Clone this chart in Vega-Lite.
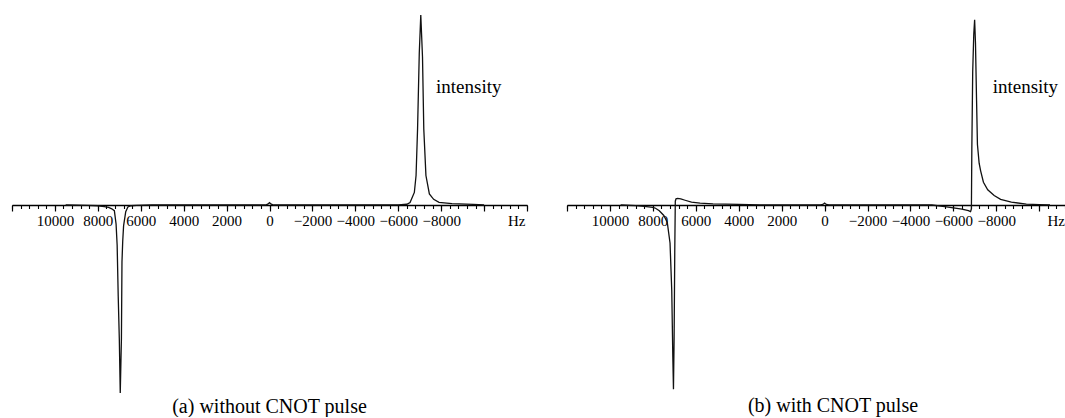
{
  "$schema": "https://vega.github.io/schema/vega-lite/v6.json",
  "padding": {"left": 11, "top": 12, "right": 0, "bottom": 0},
  "background": "white",
  "config": {
    "view": {"stroke": null},
    "font": "Liberation Serif",
    "axis": {"labelOverlap": false, "labelFlush": false, "grid": false, "title": null, "tickColor": "black", "domainColor": "black", "labelColor": "black", "labelFont": "Liberation Serif", "labelFontSize": 15}
  },
  "spacing": 40,
  "bounds": "flush",
  "datasets": {
    "a": [
      {"hz": 9500, "v": 0}, {"hz": 8500, "v": -0.002}, {"hz": 8000, "v": -0.004}, {"hz": 7700, "v": -0.008},
      {"hz": 7500, "v": -0.013}, {"hz": 7350, "v": -0.02}, {"hz": 7230, "v": -0.03}, {"hz": 7150, "v": -0.1},
      {"hz": 7100, "v": -0.21}, {"hz": 7050, "v": -0.48}, {"hz": 7000, "v": -0.7}, {"hz": 6955, "v": -0.99},
      {"hz": 6900, "v": -0.7}, {"hz": 6875, "v": -0.3}, {"hz": 6840, "v": -0.19}, {"hz": 6800, "v": -0.11},
      {"hz": 6700, "v": -0.035}, {"hz": 6600, "v": -0.01}, {"hz": 6450, "v": -0.004}, {"hz": 6200, "v": -0.002},
      {"hz": 5500, "v": 0}, {"hz": 200, "v": 0}, {"hz": 80, "v": 0.004}, {"hz": 0, "v": 0.012},
      {"hz": -80, "v": 0.004}, {"hz": -200, "v": 0}, {"hz": -6000, "v": 0.001}, {"hz": -6400, "v": 0.004},
      {"hz": -6550, "v": 0.013}, {"hz": -6750, "v": 0.066}, {"hz": -6830, "v": 0.155}, {"hz": -6900, "v": 0.4},
      {"hz": -6980, "v": 0.8}, {"hz": -7050, "v": 1.0}, {"hz": -7130, "v": 0.78}, {"hz": -7190, "v": 0.4},
      {"hz": -7290, "v": 0.155}, {"hz": -7450, "v": 0.058}, {"hz": -7650, "v": 0.03}, {"hz": -7900, "v": 0.014},
      {"hz": -8500, "v": 0.007}, {"hz": -9500, "v": 0.003}, {"hz": -10000, "v": 0}
    ],
    "b": [
      {"hz": 9500, "v": 0}, {"hz": 8800, "v": -0.003}, {"hz": 8400, "v": -0.007}, {"hz": 8000, "v": -0.013},
      {"hz": 7875, "v": -0.017}, {"hz": 7700, "v": -0.03}, {"hz": 7490, "v": -0.055}, {"hz": 7330, "v": -0.09},
      {"hz": 7200, "v": -0.2}, {"hz": 7120, "v": -0.45}, {"hz": 7070, "v": -0.8}, {"hz": 7040, "v": -0.97},
      {"hz": 7010, "v": -0.7}, {"hz": 6980, "v": -0.25}, {"hz": 6955, "v": 0.02}, {"hz": 6920, "v": 0.033},
      {"hz": 6850, "v": 0.035}, {"hz": 6700, "v": 0.032}, {"hz": 6500, "v": 0.025}, {"hz": 6200, "v": 0.015},
      {"hz": 5800, "v": 0.01}, {"hz": 5200, "v": 0.006}, {"hz": 4000, "v": 0.003}, {"hz": 3000, "v": 0.001},
      {"hz": 2000, "v": 0}, {"hz": 200, "v": 0}, {"hz": 80, "v": 0.003}, {"hz": 0, "v": 0.01},
      {"hz": -80, "v": 0.003}, {"hz": -200, "v": 0}, {"hz": -5000, "v": 0}, {"hz": -5600, "v": -0.008},
      {"hz": -6000, "v": -0.015}, {"hz": -6400, "v": -0.022}, {"hz": -6700, "v": -0.03}, {"hz": -6800, "v": -0.035},
      {"hz": -6840, "v": -0.02}, {"hz": -6860, "v": 0.3}, {"hz": -6900, "v": 0.7}, {"hz": -6950, "v": 0.9},
      {"hz": -6990, "v": 0.975}, {"hz": -7030, "v": 0.85}, {"hz": -7080, "v": 0.55}, {"hz": -7120, "v": 0.32},
      {"hz": -7200, "v": 0.22}, {"hz": -7270, "v": 0.18}, {"hz": -7400, "v": 0.12}, {"hz": -7600, "v": 0.08},
      {"hz": -7900, "v": 0.05}, {"hz": -8200, "v": 0.03}, {"hz": -8700, "v": 0.015}, {"hz": -9400, "v": 0.005},
      {"hz": -10000, "v": 0.002}, {"hz": -10500, "v": 0}
    ],
    "labA": [
      {"hz": -7760, "v": 0.587, "label": "intensity", "size": "big"},
      {"hz": -11114, "v": -0.113, "label": "Hz", "size": "small"}
    ],
    "labB": [
      {"hz": -7830, "v": 0.59, "label": "intensity", "size": "big"},
      {"hz": -10380, "v": -0.113, "label": "Hz", "size": "small"}
    ]
  },
  "hconcat": [
    {
      "width": 515,
      "height": 380,
      "title": {"text": "(a) without CNOT pulse", "orient": "bottom", "font": "Liberation Serif", "fontSize": 20, "fontWeight": "normal", "color": "black", "offset": 1, "anchor": "middle"},
      "resolve": {"axis": {"x": "independent"}},
      "layer": [
        {
          "data": {"name": "a"},
          "mark": {"type": "line", "color": "#111", "strokeWidth": 1.3},
          "encoding": {
            "x": {"field": "hz", "type": "quantitative", "scale": {"domain": [12000, -12000], "nice": false},
              "axis": {
                "orient": "bottom", "offset": -190, "format": "d",
                "values": [12000, 10000, 8000, 6000, 4000, 2000, 0, -2000, -4000, -6000, -8000, -10000, -12000],
                "labelExpr": "(datum.value <= 10000 && datum.value >= -8000) ? datum.label : ''",
                "tickSize": 6, "tickWidth": 1.2, "domainWidth": 1.5, "labelPadding": 2
              }
            },
            "y": {"field": "v", "type": "quantitative", "scale": {"domain": [-1, 1], "nice": false}, "axis": null}
          }
        },
        {
          "data": {"name": "labA"},
          "mark": {"type": "text", "align": "left", "baseline": "alphabetic", "font": "Liberation Serif", "color": "black", "clip": true},
          "encoding": {
            "x": {"field": "hz", "type": "quantitative",
              "axis": {
                "orient": "bottom", "offset": -190, "labels": false, "domain": false,
                "values": [12000, 11600, 11200, 10800, 10400, 10000, 9600, 9200, 8800, 8400, 8000, 7600, 7200, 6800, 6400, 6000, 5600, 5200, 4800, 4400, 4000, 3600, 3200, 2800, 2400, 2000, 1600, 1200, 800, 400, 0, -400, -800, -1200, -1600, -2000, -2400, -2800, -3200, -3600, -4000, -4400, -4800, -5200, -5600, -6000, -6400, -6800, -7200, -7600, -8000, -8400, -8800, -9200, -9600, -10000, -10400, -10800, -11200, -11600, -12000],
                "tickSize": 3.5, "tickWidth": 1.1
              }
            },
            "y": {"field": "v", "type": "quantitative"},
            "text": {"field": "label"},
            "size": {"field": "size", "type": "nominal", "scale": {"domain": ["big", "small"], "range": [19, 15]}, "legend": null}
          }
        }
      ]
    },
    {
      "width": 498,
      "height": 380,
      "title": {"text": "(b) with CNOT pulse", "orient": "bottom", "font": "Liberation Serif", "fontSize": 20, "fontWeight": "normal", "color": "black", "offset": 1, "anchor": "middle", "dx": 17},
      "resolve": {"axis": {"x": "independent"}},
      "layer": [
        {
          "data": {"name": "b"},
          "mark": {"type": "line", "color": "#111", "strokeWidth": 1.3},
          "encoding": {
            "x": {"field": "hz", "type": "quantitative", "scale": {"domain": [12000, -11200], "nice": false},
              "axis": {
                "orient": "bottom", "offset": -190, "format": "d",
                "values": [12000, 10000, 8000, 6000, 4000, 2000, 0, -2000, -4000, -6000, -8000, -10000],
                "labelExpr": "(datum.value <= 10000 && datum.value >= -8000) ? datum.label : ''",
                "tickSize": 6, "tickWidth": 1.2, "domainWidth": 1.5, "labelPadding": 2
              }
            },
            "y": {"field": "v", "type": "quantitative", "scale": {"domain": [-1, 1], "nice": false}, "axis": null}
          }
        },
        {
          "data": {"name": "labB"},
          "mark": {"type": "text", "align": "left", "baseline": "alphabetic", "font": "Liberation Serif", "color": "black", "clip": true},
          "encoding": {
            "x": {"field": "hz", "type": "quantitative",
              "axis": {
                "orient": "bottom", "offset": -190, "labels": false, "domain": false,
                "values": [12000, 11600, 11200, 10800, 10400, 10000, 9600, 9200, 8800, 8400, 8000, 7600, 7200, 6800, 6400, 6000, 5600, 5200, 4800, 4400, 4000, 3600, 3200, 2800, 2400, 2000, 1600, 1200, 800, 400, 0, -400, -800, -1200, -1600, -2000, -2400, -2800, -3200, -3600, -4000, -4400, -4800, -5200, -5600, -6000, -6400, -6800, -7200, -7600, -8000, -8400, -8800, -9200, -9600, -10000, -10400, -10800, -11200],
                "tickSize": 3.5, "tickWidth": 1.1
              }
            },
            "y": {"field": "v", "type": "quantitative"},
            "text": {"field": "label"},
            "size": {"field": "size", "type": "nominal", "scale": {"domain": ["big", "small"], "range": [19, 15]}, "legend": null}
          }
        }
      ]
    }
  ]
}
